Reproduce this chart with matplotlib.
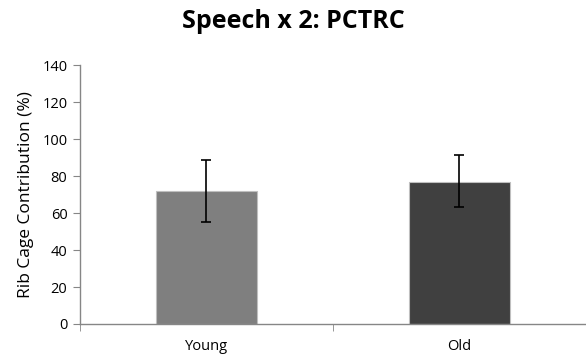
import matplotlib
matplotlib.use("Agg")
import matplotlib.pyplot as plt

groups = ["Young", "Old"]
means = [71.8, 76.9]
err_low = [16.7, 13.7]
err_high = [16.8, 14.6]
colors = ["#7f7f7f", "#404040"]

plt.rcParams['font.family'] = ['Open Sans', 'DejaVu Sans']

fig = plt.figure(figsize=(5.86, 3.56), dpi=100)
ax = fig.add_axes([0.1365, 0.0899, 0.8635, 0.727])

x = list(range(len(groups)))
ax.bar(x, means, width=0.4, color=colors, edgecolor="#bfbfbf", linewidth=0.8,
       yerr=[err_low, err_high], capsize=3.5,
       error_kw=dict(ecolor="black", elinewidth=1.2, capthick=1.2))

ax.set_xlim(-0.5, 1.5)
ax.set_ylim(0, 140)
ax.set_yticks(range(0, 141, 20))
ax.set_xticks(x)
ax.set_xticklabels(groups)
ax.set_xticks([-0.5, 0.5, 1.5], minor=True)
ax.tick_params(axis="x", which="major", length=0, pad=11, labelsize=10.5)
ax.tick_params(axis="x", which="minor", length=5, color="#868686", direction="out")
ax.tick_params(axis="y", length=5, color="#868686", labelsize=10.5, pad=4)

for s in ["top", "right"]:
    ax.spines[s].set_visible(False)
for s in ["left", "bottom"]:
    ax.spines[s].set_color("#868686")
    ax.spines[s].set_linewidth(1.0)

ax.set_ylabel("Rib Cage Contribution (%)", fontsize=12.5, labelpad=6)
fig.suptitle("Speech x 2: PCTRC", fontsize=18, fontweight="bold", y=0.975)

fig.savefig("out.png", dpi=100)
